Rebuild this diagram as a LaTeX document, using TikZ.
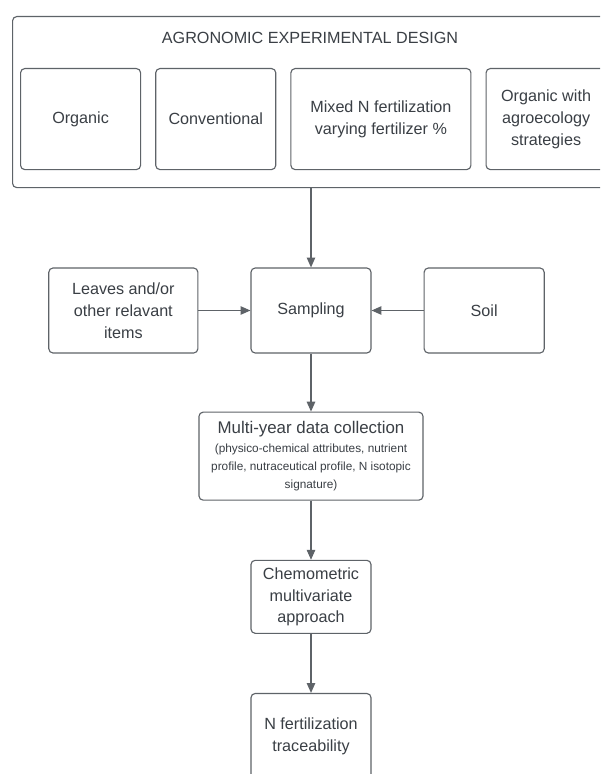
\documentclass[tikz,border=0pt]{standalone}
\usepackage{fontspec}
\setmainfont{Liberation Sans}
\usepackage{xcolor}
\usetikzlibrary{positioning,arrows.meta}

\definecolor{edgegray}{HTML}{5E6368}
\definecolor{textgray}{HTML}{3A3F45}
\newcommand{\detailsize}{\fontsize{8.4}{10}\selectfont}

\begin{document}
\begin{tikzpicture}[
    x=0.025cm, y=-0.025cm,
    box/.style={rectangle, draw=edgegray, line width=0.8pt, rounded corners=3pt, align=center, text=textgray, font=\fontsize{11.5}{15.5}\selectfont, inner sep=2pt},
    groupbox/.style={rectangle, draw=edgegray, line width=0.8pt, rounded corners=3pt},
    arrow/.style={draw=edgegray, line width=0.8pt, -{Triangle[width=6pt,length=7pt]}}
]
    \useasboundingbox (0,0) rectangle (600,774);
    \clip (0,0) rectangle (600,774);
    \fill[white] (0,0) rectangle (600,774);
    % experimental design
    \node[groupbox, anchor=north west, minimum width=15.3cm, minimum height=4.275cm] (design) at (12,16) {};
    \node[text=textgray, font=\fontsize{11.5}{14}\selectfont] (title) at (310,38) {AGRONOMIC EXPERIMENTAL DESIGN};
    \node[box, anchor=north west, minimum width=3cm, minimum height=2.525cm] (organic) at (20,68) {Organic};
    \node[box, right=0.35cm of organic, minimum width=3cm, minimum height=2.525cm] (conv) {Conventional};
    \node[box, right=0.35cm of conv, minimum width=4.5cm, minimum height=2.525cm] (mixed) {Mixed N fertilization\\varying fertilizer \%};
    \node[box, right=0.35cm of mixed, minimum width=3cm, minimum height=2.525cm] (agroeco) {Organic with\\agroecology\\strategies};
    % sampling row
    \node[box, minimum width=3cm, minimum height=2.125cm] (sampling) at (311,310.5) {Sampling};
    \node[box, left=1.3cm of sampling, minimum width=3.725cm, minimum height=2.125cm] (leaves) {Leaves and/or\\other relavant\\items};
    \node[box, right=1.3cm of sampling, minimum width=3cm, minimum height=2.125cm] (soil) {Soil};
    % analysis chain
    \node[box, below=1.45cm of sampling, minimum width=5.6cm, minimum height=2.2cm] (collection) {\fontsize{12}{14}\selectfont Multi-year data collection\\[-2pt]\detailsize (physico-chemical attributes, nutrient\\[-3pt]\detailsize profile, nutraceutical profile, N isotopic\\[-3pt]\detailsize signature)};
    \node[box, below=1.475cm of collection, minimum width=3cm, minimum height=1.825cm] (chemo) {Chemometric\\multivariate\\approach};
    \node[box, below=1.475cm of chemo, minimum width=3cm, minimum height=2.15cm] (trace) {N fertilization\\traceability};
    \path [arrow] (design.south -| sampling) -- (sampling);
    \path [arrow] (leaves) -- (sampling);
    \path [arrow] (soil) -- (sampling);
    \path [arrow] (sampling) -- (collection);
    \path [arrow] (collection) -- (chemo);
    \path [arrow] (chemo) -- (trace);
\end{tikzpicture}
\end{document}
